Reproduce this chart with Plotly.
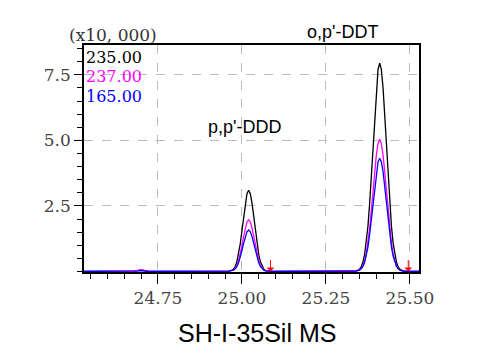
import plotly.graph_objects as go

rt = [24.53, 24.68, 24.69, 24.70, 24.71, 24.72, 24.96, 24.97, 24.975, 24.98, 24.985, 24.99, 24.995,
      25.00, 25.005, 25.01, 25.015, 25.02, 25.025, 25.03, 25.035, 25.04, 25.045, 25.05, 25.055,
      25.06, 25.065, 25.07, 25.08, 25.09,
      25.34, 25.35, 25.355, 25.36, 25.365, 25.37, 25.375, 25.38, 25.385, 25.39, 25.395, 25.40,
      25.405, 25.41, 25.415, 25.42, 25.425, 25.43, 25.435, 25.44, 25.445, 25.45, 25.455, 25.46,
      25.465, 25.47, 25.48, 25.49, 25.527]

mz235 = [0, 0, 0.03, 0.05, 0.03, 0, 0.01, 0.04, 0.09, 0.19, 0.37, 0.65, 1.05,
         1.55, 2.10, 2.61, 2.97, 3.10, 2.97, 2.61, 2.10, 1.55, 1.05, 0.65, 0.37,
         0.19, 0.09, 0.04, 0.01, 0,
         0.02, 0.09, 0.18, 0.35, 0.63, 1.08, 1.72, 2.58, 3.64, 4.82, 6.00, 7.01,
         7.70, 7.95, 7.70, 7.01, 6.00, 4.82, 3.64, 2.58, 1.72, 1.08, 0.63, 0.35,
         0.18, 0.09, 0.02, 0, 0]

mz237 = [0, 0, 0.04, 0.07, 0.04, 0, 0.01, 0.03, 0.06, 0.12, 0.23, 0.41, 0.67,
         0.98, 1.33, 1.66, 1.89, 1.97, 1.89, 1.66, 1.33, 0.98, 0.67, 0.41, 0.23,
         0.12, 0.06, 0.03, 0.01, 0,
         0.01, 0.06, 0.11, 0.22, 0.40, 0.68, 1.09, 1.64, 2.31, 3.06, 3.80, 4.44,
         4.88, 5.04, 4.88, 4.44, 3.80, 3.06, 2.31, 1.64, 1.09, 0.68, 0.40, 0.22,
         0.11, 0.06, 0.01, 0, 0]

mz165 = [0, 0, 0.02, 0.03, 0.02, 0, 0.01, 0.02, 0.05, 0.10, 0.19, 0.33, 0.54,
         0.79, 1.07, 1.33, 1.51, 1.58, 1.51, 1.33, 1.07, 0.79, 0.54, 0.33, 0.19,
         0.10, 0.05, 0.02, 0.01, 0,
         0.01, 0.05, 0.10, 0.19, 0.34, 0.59, 0.93, 1.40, 1.98, 2.62, 3.26, 3.81,
         4.18, 4.32, 4.18, 3.81, 3.26, 2.62, 1.98, 1.40, 0.93, 0.59, 0.34, 0.19,
         0.10, 0.05, 0.01, 0, 0]

series_names = ["235.00", "237.00", "165.00"]
series_colors = ["#000000", "#ff00ff", "#0000ff"]
series_values = [mz235, mz237, mz165]

peak_labels = ["p,p'-DDD", "o,p'-DDT"]
arrow_rt = [25.085, 25.495]

x_ticks = [24.75, 25.00, 25.25, 25.50]
y_ticks = [2.5, 5.0, 7.5]

serif = "DejaVu Serif"
sans = "Liberation Sans"

fig = go.Figure()
for name, col, vals in zip(series_names, series_colors, series_values):
    fig.add_trace(go.Scatter(x=rt, y=vals, mode="lines", name=name,
                             line=dict(color=col, width=1.3), showlegend=False))

legend_y = [0.947, 0.863, 0.775]
for name, col, ly in zip(series_names, series_colors, legend_y):
    fig.add_annotation(xref="paper", yref="paper", x=0.0, y=ly,
                       xanchor="left", yanchor="middle", showarrow=False,
                       text=name, font=dict(family=serif, size=16, color=col))

fig.add_annotation(xref="paper", yref="paper", x=-0.052, y=0.99, xanchor="left", yanchor="bottom",
                   showarrow=False, text="(x10, 000)", font=dict(family=serif, size=17, color="#333"))

for a in arrow_rt:
    fig.add_annotation(x=a, y=0, ax=0, ay=-13, axref="pixel", ayref="pixel",
                       showarrow=True, arrowhead=1, arrowsize=1.3, arrowwidth=1,
                       arrowcolor="#ff0000", text="")

fig.add_annotation(xref="paper", yref="paper", x=0.48, y=0.639, showarrow=False,
                   text=peak_labels[0], font=dict(family=sans, size=18, color="#000"))
fig.add_annotation(xref="paper", yref="paper", x=0.884, y=1.11, showarrow=False,
                   text=peak_labels[1], font=dict(family=sans, size=18, color="#000"))

fig.update_layout(
    width=484, height=355,
    margin=dict(l=76, r=73, t=37, b=91),
    paper_bgcolor="white", plot_bgcolor="white",
    title=dict(text="SH-I-35Sil MS", x=0.515, xanchor="center", y=0.085, yanchor="middle",
               font=dict(family=sans, size=25, color="#000")),
    xaxis=dict(range=[24.53, 25.527], tickvals=x_ticks, tickformat=".2f",
               showline=True, linecolor="#000", linewidth=1.5, mirror=True,
               ticks="outside", ticklen=10, tickcolor="#000",
               showgrid=True, gridcolor="#bbbbbb", griddash="dash", gridwidth=1,
               zeroline=False,
               tickfont=dict(family=serif, size=17, color="#444"),
               minor=dict(dtick=0.05, tick0=24.75, ticks="outside", ticklen=5, tickcolor="#000", showgrid=False)),
    yaxis=dict(range=[-0.02, 8.64], tickvals=y_ticks, tickformat=".1f",
               showline=True, linecolor="#000", linewidth=1.5, mirror=True,
               ticks="outside", ticklen=8, tickcolor="#000",
               showgrid=True, gridcolor="#bbbbbb", griddash="dash", gridwidth=1,
               zeroline=False,
               tickfont=dict(family=serif, size=17, color="#444"),
               minor=dict(dtick=0.5, tick0=0, ticks="outside", ticklen=5, tickcolor="#000", showgrid=False)),
)

fig.write_html("out.html")
